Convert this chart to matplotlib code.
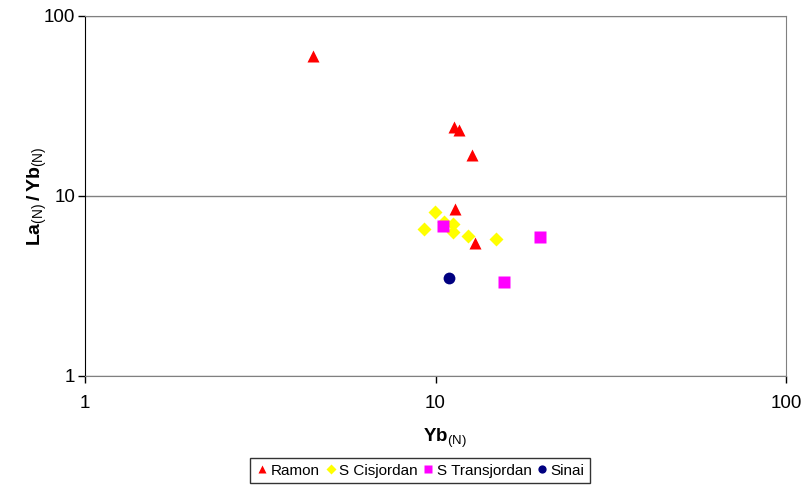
import matplotlib.pyplot as plt
import matplotlib.ticker as mticker

plt.rcParams['font.family'] = ['Liberation Sans', 'DejaVu Sans']
plt.rcParams['mathtext.fontset'] = 'custom'
plt.rcParams['mathtext.rm'] = 'Liberation Sans'
plt.rcParams['mathtext.bf'] = 'Liberation Sans:bold'

# data (Yb_N, La_N/Yb_N)
ramon_x = [4.47, 11.3, 11.7, 12.7, 11.4, 13.0]
ramon_y = [59.9, 24.2, 23.3, 16.9, 8.47, 5.48]

cis_x = [9.95, 9.29, 10.6, 11.2, 11.2, 12.4, 14.9]
cis_y = [8.12, 6.53, 7.2, 6.96, 6.29, 6.02, 5.75]

trans_x = [10.5, 19.9, 15.7]
trans_y = [6.84, 5.94, 3.34]

sinai_x = [10.9]
sinai_y = [3.49]

ticks = [1, 10, 100]
tick_labels = ['1', '10', '100']

fig = plt.figure(figsize=(8.02, 4.87), dpi=100)
ax = fig.add_axes([85/802, 1-376/487, (786-85)/802, (376-16)/487])

ax.plot(ramon_x, ramon_y, '^', color='#ff0000', ms=9, mec='none', label='Ramon')
ax.plot(cis_x, cis_y, 'D', color='#ffff00', ms=7.5, mec='none', label='S Cisjordan')
ax.plot(trans_x, trans_y, 's', color='#ff00ff', ms=8.5, mec='none', label='S Transjordan')
ax.plot(sinai_x, sinai_y, 'o', color='#000080', ms=8.5, mec='none', label='Sinai')

ax.set_xscale('log')
ax.set_yscale('log')
ax.set_xlim(1, 100)
ax.set_ylim(1, 100)

ax.xaxis.set_major_locator(mticker.FixedLocator(ticks))
ax.yaxis.set_major_locator(mticker.FixedLocator(ticks))
ax.xaxis.set_minor_locator(mticker.NullLocator())
ax.yaxis.set_minor_locator(mticker.NullLocator())
ax.xaxis.set_major_formatter(mticker.FixedFormatter(tick_labels))
ax.yaxis.set_major_formatter(mticker.FixedFormatter(tick_labels))
ax.tick_params(axis='both', direction='out', length=5, width=1, color='black', labelsize=13.5)
ax.tick_params(axis='x', pad=9)
ax.tick_params(axis='y', pad=2)

ax.grid(axis='y', color='#808080', linewidth=1)
ax.set_axisbelow(True)

for s in ['top', 'right', 'bottom']:
    ax.spines[s].set_color('#808080')
ax.spines['left'].set_color('black')

ax.set_xlabel(r'$\mathbf{Yb}_{\mathrm{(N)}}$', fontsize=13.5)
ax.set_ylabel(r'$\mathbf{La}_{\mathrm{(N)}}\,\mathbf{/\,Yb}_{\mathrm{(N)}}$', fontsize=14)
ax.xaxis.set_label_coords(0.513, -0.14)
ax.yaxis.set_label_coords(-0.052, 0.5)

leg = fig.legend(loc='lower center', bbox_to_anchor=(420/802, 4/487), ncol=4,
                 frameon=True, fancybox=False, edgecolor='black', fontsize=11,
                 handletextpad=0.1, columnspacing=0.25, handlelength=0.9,
                 borderpad=0.35, borderaxespad=0, markerscale=0.7)
leg.get_frame().set_linewidth(1)

fig.savefig('out.png', dpi=100)
